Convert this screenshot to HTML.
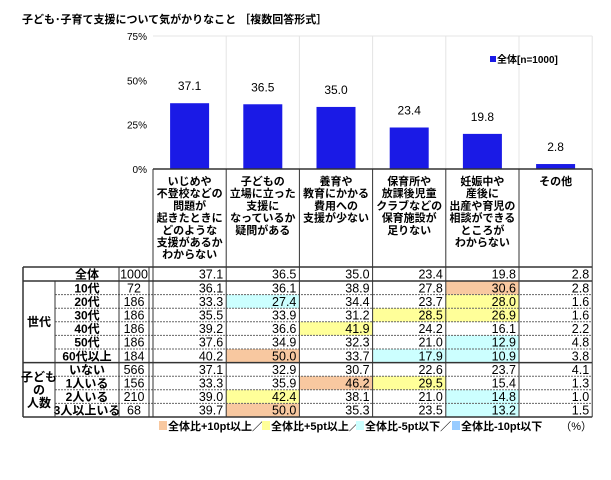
<!DOCTYPE html>
<html><head><meta charset="utf-8">
<style>
body{margin:0;background:#fff;}
#root{position:relative;width:611px;height:480px;overflow:hidden;font-family:"Liberation Sans","Noto Sans CJK JP",sans-serif;color:#000;}
.t{position:absolute;white-space:nowrap;}
.b{font-weight:bold;}
</style></head><body>
<div id="root">
<div class="t b" style="left:22px;top:11px;font-size:11px;">子ども･子育て支援について気がかりなこと ［複数回答形式］</div>
<svg id="svg" width="611" height="480" style="position:absolute;left:0;top:0"></svg>
</div>
<script>
const categories=["いじめや\n不登校などの\n問題が\n起きたときに\nどのような\n支援があるか\nわからない","子どもの\n立場に立った\n支援に\nなっているか\n疑問がある","養育や\n教育にかかる\n費用への\n支援が少ない","保育所や\n放課後児童\nクラブなどの\n保育施設が\n足りない","妊娠中や\n産後に\n出産や育児の\n相談ができる\nところが\nわからない","その他"];
const totalValues=[37.1,36.5,35.0,23.4,19.8,2.8];
const yTicks=[0,25,50,75];
const rowLabels=["全体","10代","20代","30代","40代","50代","60代以上","いない","1人いる","2人いる","3人以上いる"];
const rowN=[1000,72,186,186,186,186,184,566,156,210,68];
const rowValues=[
[37.1,36.5,35.0,23.4,19.8,2.8],
[36.1,36.1,38.9,27.8,30.6,2.8],
[33.3,27.4,34.4,23.7,28.0,1.6],
[35.5,33.9,31.2,28.5,26.9,1.6],
[39.2,36.6,41.9,24.2,16.1,2.2],
[37.6,34.9,32.3,21.0,12.9,4.8],
[40.2,50.0,33.7,17.9,10.9,3.8],
[37.1,32.9,30.7,22.6,23.7,4.1],
[33.3,35.9,46.2,29.5,15.4,1.3],
[39.0,42.4,38.1,21.0,14.8,1.0],
[39.7,50.0,35.3,23.5,13.2,1.5]];
const groups=[{label:"世代",from:1,to:6},{label:"子ども\nの\n人数",from:7,to:10}];

const NS="http://www.w3.org/2000/svg";
const svg=document.getElementById('svg');
function mk(tag,attrs,parent){const e=document.createElementNS(NS,tag);for(const k in attrs)e.setAttribute(k,attrs[k]);(parent||svg).appendChild(e);return e;}
const colL=153,colW=73.2,plotTop=36,plotBot=169,yMax=75;
const y=v=>plotBot-(v/yMax)*(plotBot-plotTop);
const x=i=>colL+i*colW;
const FONT='"Liberation Sans","Noto Sans CJK JP",sans-serif';
for(let i=1;i<=6;i++){const l=mk('line',{x1:x(i),x2:x(i),y1:plotTop,y2:plotBot,stroke:'#e4e4e4','stroke-width':1});}
const tl=mk('line',{x1:colL,x2:x(6),y1:plotTop,y2:plotTop,stroke:'#e4e4e4'});
yTicks.forEach(t=>{const e=mk('text',{x:147,y:y(t)+4,'text-anchor':'end','font-size':10,'font-family':FONT});e.textContent=t+'%';});
totalValues.forEach((v,i)=>{const cx=x(i)+colW/2;
const r=mk('rect',{x:cx-19.5,y:y(v),width:39,height:plotBot-y(v),fill:'#1a1ae6'});
const t=mk('text',{x:cx,y:y(v)-13,'text-anchor':'middle','font-size':12,'font-family':FONT});t.textContent=v.toFixed(1);});
const lr=mk('rect',{x:490,y:56,width:6,height:6,fill:'#1a1ae6'});
const lt=mk('text',{x:497,y:63,'font-size':10,'font-weight':'bold','font-family':FONT});lt.textContent='全体[n=1000]';
const hTop=169;
categories.forEach((c,i)=>{const t=mk('text',{'text-anchor':'middle','font-size':11,'font-weight':'bold','font-family':FONT});
c.split('\n').forEach((ln,j)=>{const s=mk('tspan',{x:x(i)+colW/2,y:185+j*12.2},t);s.textContent=ln;});});
const rowTop=[267];const rh=[14,13.6,13.6,13.6,13.6,13.6,13.6,13.6,13.6,13.6,13.6];
for(let r=1;r<=11;r++)rowTop[r]=rowTop[r-1]+rh[r-1];
const tBot=rowTop[11];
const tot=rowValues[0];
function fillFor(v,c){const d=v-tot[c];if(d>=10)return'#f8c8a0';if(d>=5)return'#ffff99';if(d<=-10)return'#99ccff';if(d<=-5)return'#ccffff';return null;}
rowValues.forEach((row,r)=>{const cy=(rowTop[r]+rowTop[r+1])/2+4.5;
row.forEach((v,c)=>{if(r>0){const f=fillFor(v,c);if(f){const b=mk('rect',{x:x(c),y:rowTop[r],width:colW,height:rh[r],fill:f});}}
const t=mk('text',{x:x(c+1)-3,y:cy,'text-anchor':'end','font-size':12.5,'font-family':FONT});t.textContent=v.toFixed(1);});
const lb=mk('text',{x:87,y:cy,'text-anchor':'middle','font-size':12,'font-weight':'bold','font-family':FONT});lb.textContent=rowLabels[r];
const n=mk('text',{x:134,y:cy,'text-anchor':'middle','font-size':12.5,'font-family':FONT});n.textContent=rowN[r];
});
function ln(x1,y1,x2,y2,w,dash,name){const l=mk('line',{x1,y1,x2,y2,stroke:dash?'#666':'#333','stroke-width':w});if(dash)l.setAttribute('stroke-dasharray','2,1');}
ln(23,rowTop[0],x(6),rowTop[0],1.5,false,'table-top');
ln(23,tBot,x(6),tBot,1.5,false,'table-bottom');
ln(23,rowTop[1],x(6),rowTop[1],1.5,false,'group-border');
ln(23,rowTop[7],x(6),rowTop[7],1.5,false,'group-border');
for(let r=2;r<=10;r++){if(r!==7)ln(55,rowTop[r],x(6),rowTop[r],1,true,'row-divider');}
ln(23,rowTop[0],23,tBot,1.5,false,'table-left');
ln(55,rowTop[1],55,tBot,1,false,'col-border');
ln(119,rowTop[0],119,tBot,1,false,'col-border');
ln(149,rowTop[0],149,tBot,1,false,'col-border');
for(let i=0;i<=6;i++){ln(x(i),hTop,x(i),tBot,1,false,'col-border');}
ln(colL,hTop,x(6),hTop,1.5,false,'header-top');
groups.forEach(g=>{const cy=(rowTop[g.from]+rowTop[g.to+1])/2;const parts=g.label.split('\n');
const t=mk('text',{'text-anchor':'middle','font-size':12,'font-weight':'bold','font-family':FONT});
parts.forEach((p,j)=>{const s=mk('tspan',{x:39,y:cy+4+(j-(parts.length-1)/2)*13},t);s.textContent=p;});});
const leg=[['#f8c8a0','全体比+10pt以上／',159],['#ffff99','全体比+5pt以上／',262],['#ccffff','全体比-5pt以下／',356],['#99ccff','全体比-10pt以下',452]];
leg.forEach(l=>{const r=mk('rect',{x:l[2],y:tBot+4,width:8,height:9,fill:l[0]});
const t=mk('text',{x:l[2]+9,y:tBot+13,'font-size':11,'font-weight':'bold','font-family':FONT});t.textContent=l[1];});
const pc=mk('text',{x:592,y:tBot+13,'text-anchor':'end','font-size':11,'font-family':FONT});pc.textContent='（%）';
</script>
</body></html>
